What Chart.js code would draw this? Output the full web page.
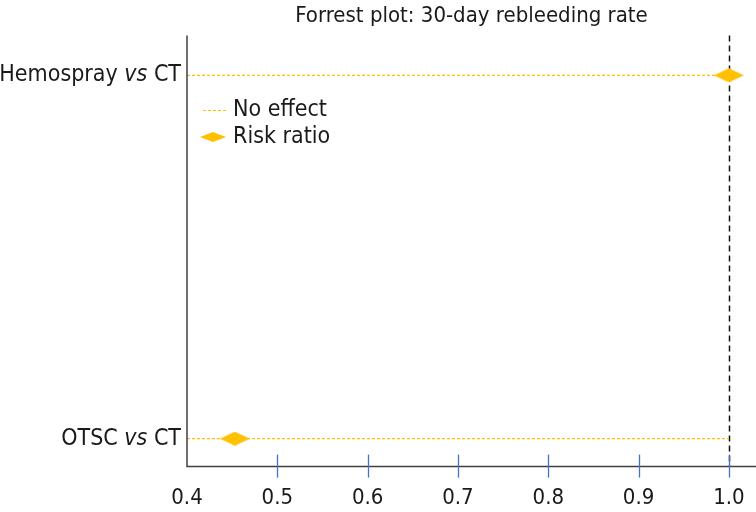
<!DOCTYPE html>
<html>
<head>
<meta charset="utf-8">
<script src="https://cdn.jsdelivr.net/npm/chart.js"></script>
<style>
  html, body { margin: 0; padding: 0; background: #fff; }
  #wrap { width: 756px; height: 512px; }
</style>
</head>
<body>
<div id="wrap"><canvas id="forrestChart"></canvas></div>
<script>
// Data
const comparisons = ["Hemospray", "OTSC"];
const comparisonRows = [1, 0];
const riskRatios = [1.0, 0.453];
const noEffectValue = 1.0;
const xTickValues = [0.4, 0.5, 0.6, 0.7, 0.8, 0.9, 1.0];
const chartTitle = "Forrest plot: 30-day rebleeding rate";

const FONT = "'DejaVu Sans Condensed', 'DejaVu Sans', sans-serif";
const YELLOW = "#FFC000";
const TEXT = "#1a1a1a";

// diamond marker
function makeDiamond(w, h) {
  const c = document.createElement("canvas");
  c.width = w;
  c.height = h;
  const g = c.getContext("2d");
  g.fillStyle = YELLOW;
  g.beginPath();
  g.moveTo(0, h / 2);
  g.lineTo(w / 2, 0);
  g.lineTo(w, h / 2);
  g.lineTo(w / 2, h);
  g.closePath();
  g.fill();
  return c;
}
const diamond = makeDiamond(30, 14);

// No effect lines, one per row
const lineSets = comparisonRows.map((row, i) => ({
  label: i === 0 ? "No effect" : "",
  type: "line",
  data: [{ x: xTickValues[0], y: row }, { x: noEffectValue, y: row }],
  borderColor: YELLOW,
  borderWidth: 1.2,
  borderDash: [3, 2],
  pointRadius: 0,
  order: 2,
}));

// custom drawing: y labels, tick marks, vertical line, legend
const extras = {
  id: "extras",
  beforeDatasetsDraw(chart) {
    const { ctx, chartArea, scales } = chart;
    const x1 = Math.round(scales.x.getPixelForValue(noEffectValue)) + 0.5;
    ctx.save();
    ctx.strokeStyle = "#111";
    ctx.lineWidth = 1.5;
    ctx.setLineDash([6, 4]);
    ctx.beginPath();
    ctx.moveTo(x1, chartArea.top);
    ctx.lineTo(x1, chartArea.bottom);
    ctx.stroke();
    ctx.restore();
  },
  afterDraw(chart) {
    const { ctx, chartArea, scales } = chart;
    ctx.save();
    // axis lines
    ctx.strokeStyle = "#404040";
    ctx.lineWidth = 1.5;
    ctx.beginPath();
    ctx.moveTo(chartArea.left, chartArea.top);
    ctx.lineTo(chartArea.left, chartArea.bottom);
    ctx.lineTo(chart.width, chartArea.bottom);
    ctx.stroke();

    // blue tick marks across the x axis
    ctx.strokeStyle = "#4472C4";
    ctx.lineWidth = 1.3;
    xTickValues.slice(1).forEach(v => {
      const px = Math.round(scales.x.getPixelForValue(v)) + 0.5;
      ctx.beginPath();
      ctx.moveTo(px, chartArea.bottom - 12);
      ctx.lineTo(px, chartArea.bottom + 11);
      ctx.stroke();
    });

    // y labels with italic "vs"
    ctx.fillStyle = TEXT;
    ctx.textBaseline = "middle";
    comparisons.forEach((name, i) => {
      const py = scales.y.getPixelForValue(comparisonRows[i]);
      const parts = [[name + " ", "normal"], ["vs", "italic"], [" CT", "normal"]];
      let total = 0;
      parts.forEach(p => {
        ctx.font = p[1] + " 23px " + FONT;
        total += ctx.measureText(p[0]).width;
      });
      let x = chartArea.left - 6 - total;
      parts.forEach(p => {
        ctx.font = p[1] + " 23px " + FONT;
        ctx.fillText(p[0], x, py);
        x += ctx.measureText(p[0]).width;
      });
    });

    // legend
    const lx = chartArea.left + 16;
    ctx.font = "23px " + FONT;
    ctx.textBaseline = "middle";
    ctx.strokeStyle = YELLOW;
    ctx.lineWidth = 1.2;
    ctx.setLineDash([3, 2]);
    ctx.beginPath();
    ctx.moveTo(lx, 110.5);
    ctx.lineTo(lx + 24, 110.5);
    ctx.stroke();
    ctx.setLineDash([]);
    ctx.fillText("No effect", lx + 30, 110);
    ctx.drawImage(makeDiamond(26, 10), lx - 3, 132);
    ctx.fillText("Risk ratio", lx + 30, 137);
    ctx.restore();
  },
};

new Chart(document.getElementById("forrestChart"), {
  type: "scatter",
  data: {
    datasets: [
      ...lineSets,
      {
        label: "Risk ratio",
        data: riskRatios.map((v, i) => ({ x: v, y: comparisonRows[i] })),
        pointStyle: diamond,
        pointRadius: 15,
        order: 1,
      },
    ],
  },
  options: {
    responsive: true,
    maintainAspectRatio: false,
    animation: false,
    layout: { autoPadding: false, padding: { left: 187, right: 0, top: 0, bottom: -1 } },
    plugins: {
      legend: { display: false },
      tooltip: { enabled: false },
      title: {
        display: true,
        text: chartTitle,
        fullSize: false,
        color: TEXT,
        font: { family: FONT, size: 22, weight: "normal" },
        padding: { top: 3, bottom: 6 },
      },
    },
    scales: {
      x: {
        type: "linear",
        min: 0.4,
        max: 1.03,
        afterBuildTicks: axis => { axis.ticks = xTickValues.map(v => ({ value: v })); },
        grid: { display: true, drawOnChartArea: false, drawTicks: true, tickLength: 16, color: "rgba(0,0,0,0)" },
        border: { display: false },
        ticks: {
          color: TEXT,
          padding: 2,
          maxRotation: 0,
          font: { family: FONT, size: 22 },
          callback: v => v.toFixed(1),
        },
      },
      y: {
        type: "linear",
        display: false,
        min: -0.077,
        max: 1.11,
      },
    },
  },
  plugins: [extras],
});
</script>
</body>
</html>
